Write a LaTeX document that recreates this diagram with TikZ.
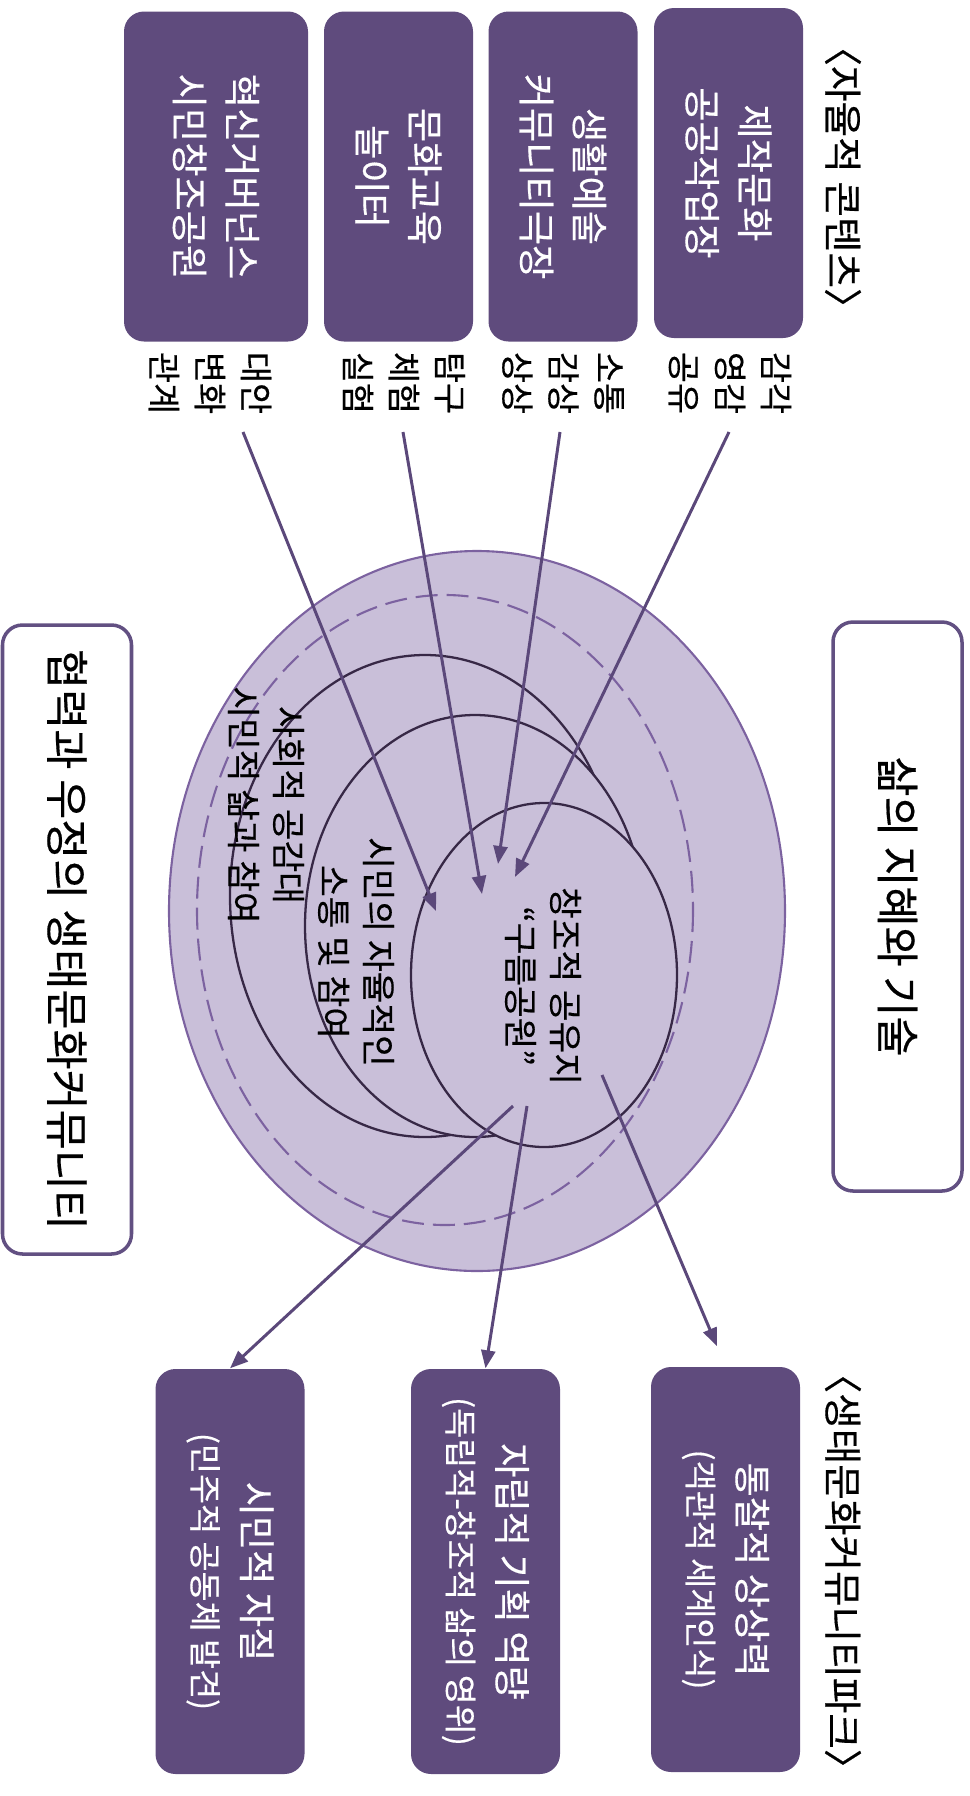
\documentclass[tikz,border=0pt]{standalone}
\usepackage{fontspec}
\setmainfont{Noto Sans CJK KR}[FakeBold=0.4]
\usetikzlibrary{arrows.meta}

\definecolor{boxpurple}{RGB}{95,75,125}
\definecolor{ringfill}{RGB}{201,191,217}
\definecolor{ringline}{RGB}{124,98,160}
\definecolor{innerline}{RGB}{55,40,70}
\definecolor{arrowpurple}{RGB}{91,72,122}
\definecolor{sideline}{RGB}{98,80,130}

\tikzset{
  topbox/.style={rotate=-90, fill=boxpurple, text=white, rounded corners=2mm, align=center,
    inner sep=0pt, minimum width=33mm, minimum height=14.9mm, font=\fontsize{10.6}{15}\selectfont},
  botbox/.style={rotate=-90, fill=boxpurple, text=white, rounded corners=2mm, align=center,
    inner sep=0pt, minimum width=40.5mm, minimum height=14.9mm, font=\fontsize{9.3}{14.2}\selectfont},
  sidebox/.style={rotate=-90, draw=sideline, line width=1pt, rounded corners=2mm,
    inner sep=0pt, minimum height=12.9mm, font=\fontsize{12.4}{14}\selectfont},
  tag/.style={rotate=-90, align=center, inner sep=1pt, font=\fontsize{9.6}{13.1}\selectfont},
  head/.style={rotate=-90, inner sep=0pt, font=\fontsize{11}{12}\selectfont},
  ringtext/.style={rotate=-90, align=center, inner sep=0pt, font=\fontsize{9.8}{12.8}\selectfont},
  ring/.style={fill=ringfill, draw=innerline, line width=0.65pt},
  arr/.style={draw=arrowpurple, line width=0.85pt, -{Triangle[length=1.8mm,width=1.4mm]}}
}

\begin{document}
\begin{tikzpicture}[x=0.1mm, y=-0.1mm]
  \useasboundingbox (0,0) rectangle (970,1796);
  % top: contents
  \node[head] (headtop) at (843,177) {〈자율적 콘텐츠〉};
  \node[topbox] (boxA) at (728.5,173) {제작문화\\공공작업장};
  \node[topbox] (boxB) at (563,176.5) {생활예술\\커뮤니티극장};
  \node[topbox] (boxC) at (398.5,176.5) {문화교육\\놀이터};
  \node[topbox, minimum height=18.4mm] (boxD) at (216,176.5) {혁신거버넌스\\시민창조공원};
  %
  \node[tag] (labA) at (730,383) {감각\\영감\\공유};
  \node[tag] (labB) at (563,383) {소통\\감상\\상상};
  \node[tag] (labC) at (404,383) {탐구\\체험\\실험};
  \node[tag] (labD) at (210,383) {대안\\변화\\관계};
  % rings
  \draw[fill=ringfill, draw=ringline, line width=0.6pt] (477,911) ellipse [x radius=308, y radius=360];
  \draw[ring] (425,896) ellipse [x radius=195, y radius=241];
  \draw[ring] (475,926) ellipse [x radius=170, y radius=211];
  \draw[ring] (544,975) ellipse [x radius=133, y radius=172];
  \draw[draw=ringline, line width=0.6pt, dash pattern=on 2.2mm off 0.9mm] (445,910) ellipse [x radius=248, y radius=315];
  %
  \node[ringtext] (park) at (543,986) {창조적 공유지\\“구름공원”};
  \node[ringtext] (civic) at (356,952) {시민의 자율적인\\소통 및 참여};
  \node[ringtext] (social) at (266,805) {사회적 공감대\\시민적 삶과 참여};
  % sides
  \node[sidebox, minimum width=56.9mm] (wisdom) at (897.5,906.5) {삶의 지혜와 기술};
  \node[sidebox, minimum width=62.9mm] (friend) at (67,939.5) {협력과 우정의 생태문화커뮤니티};
  % bottom: outcomes
  \node[head] (headbot) at (843,1571) {〈생태문화커뮤니티파크〉};
  \node[botbox] (boxE) at (725.5,1569.5) {{\fontsize{10.6}{14.2}\selectfont 통찰적 상상력}\\(객관적 세계인식)};
  \node[botbox] (boxF) at (485.5,1571.5) {{\fontsize{10.6}{14.2}\selectfont 자립적 기획 역량}\\(독립적-창조적 삶의 영위)};
  \node[botbox] (boxG) at (230,1571.5) {{\fontsize{10.6}{14.2}\selectfont 시민적 자질}\\(민주적 공동체 발견)};
  % arrow ends
  \coordinate (fromA) at (729,432);
  \coordinate (fromB) at (560,432);
  \coordinate (fromC) at (403,432);
  \coordinate (fromD) at (243,432);
  \coordinate (inA) at (515,877);
  \coordinate (inB) at (498,864);
  \coordinate (inC) at (482,894);
  \coordinate (inD) at (436,911);
  \coordinate (outE) at (602,1075);
  \coordinate (outF) at (527,1106);
  \coordinate (outG) at (513,1106);
  %
  \draw[arr] (fromA) -- (inA);
  \draw[arr] (fromB) -- (inB);
  \draw[arr] (fromC) -- (inC);
  \draw[arr] (fromD) -- (inD);
  \draw[arr, shorten >=2.2mm] (outE) -- (boxE.west);
  \draw[arr] (outF) -- (boxF.west);
  \draw[arr] (outG) -- (boxG.west);
\end{tikzpicture}
\end{document}
